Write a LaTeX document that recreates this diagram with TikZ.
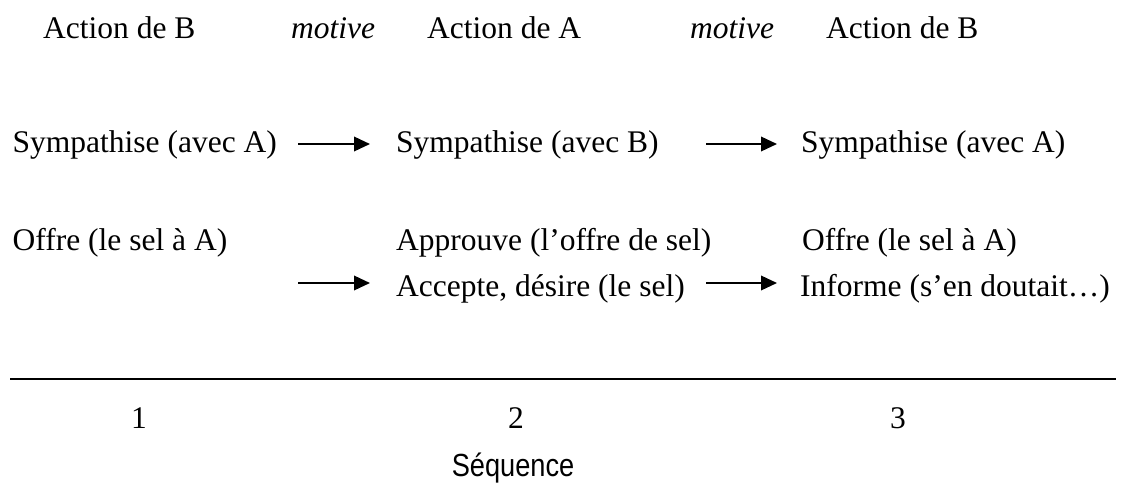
\documentclass[tikz,border=0pt]{standalone}
\usepackage{graphicx}
\usepackage{fontspec}
\setmainfont{Liberation Serif}
\newfontfamily\arialfont{Liberation Sans}
\usetikzlibrary{arrows.meta}
\tikzset{
  txt/.style={anchor=base west,inner sep=0pt,font=\fontsize{31.5}{36}\selectfont},
  num/.style={anchor=base,inner sep=0pt,font=\fontsize{31.5}{36}\selectfont},
  seq/.style={anchor=base,inner sep=0pt,font=\arialfont\fontsize{32}{36}\selectfont},
  arr/.style={line width=2pt,-{Triangle[length=16pt,width=14.5pt]}},
  rule/.style={line width=2pt}
}
\begin{document}
\begin{tikzpicture}[x=1pt,y=-1pt]
\useasboundingbox (0,0) rectangle (1126,484);
% row 1
\node[txt] (h1) at (43,39) {Action de B};
\node[txt] (m1) at (291,39) {\itshape motive};
\node[txt] (h2) at (427,39) {Action de A};
\node[txt] (m2) at (690,39) {\itshape motive};
\node[txt] (h3) at (826,39) {Action de B};
% row 2
\node[txt] (s1) at (12.5,152) {Sympathise (avec A)};
\node[txt] (s2) at (396,152) {Sympathise (avec B)};
\node[txt] (s3) at (801,152) {Sympathise (avec A)};
\coordinate (a1s) at (298,144);
\coordinate (a1e) at (370,144);
\coordinate (a2s) at (706,144);
\coordinate (a2e) at (777,144);
\draw[arr] (a1s) -- (a1e);
\draw[arr] (a2s) -- (a2e);
% row 3/4
\node[txt] (o1) at (12.5,250) {Offre (le sel à A)};
\node[txt] (p2) at (396,250) {Approuve (l’offre de sel)};
\node[txt] (o3) at (802,250) {Offre (le sel à A)};
\node[txt] (c2) at (396,296) {Accepte, désire (le sel)};
\node[txt] (i3) at (800,296) {Informe (s’en doutait…)};
\coordinate (b1s) at (298,283);
\coordinate (b1e) at (370,283);
\coordinate (b2s) at (706,283);
\coordinate (b2e) at (777,283);
\draw[arr] (b1s) -- (b1e);
\draw[arr] (b2s) -- (b2e);
% axis
\coordinate (ls) at (10,379);
\coordinate (le) at (1116,379);
\draw[rule] (ls) -- (le);
\node[num] (n1) at (139,428) {1};
\node[num] (n2) at (516,428) {2};
\node[num] (n3) at (898,428) {3};
\node[seq] (sq) at (513,476) {\scalebox{0.85}[1]{Séquence}};
\end{tikzpicture}
\end{document}
